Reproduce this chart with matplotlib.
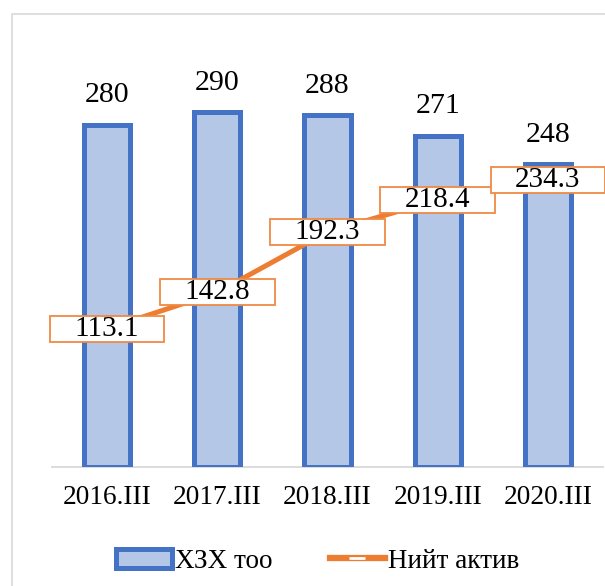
import matplotlib
matplotlib.use("Agg")
import matplotlib.pyplot as plt
from matplotlib.patches import Patch, Rectangle
from matplotlib.lines import Line2D
from matplotlib.path import Path
from matplotlib.legend_handler import HandlerTuple

categories = ["2016.III", "2017.III", "2018.III", "2019.III", "2020.III"]
counts = [280, 290, 288, 271, 248]          # ХЗХ тоо
assets = [113.1, 142.8, 192.3, 218.4, 234.3]  # Нийт актив
series_names = ["ХЗХ тоо", "Нийт актив"]

plt.rcParams['font.family'] = ['Liberation Serif', 'DejaVu Serif']

BAR_FACE = "#B4C7E7"
BAR_EDGE = "#4472C4"
ORANGE = "#ED7D31"
W, H = 605, 586
fig = plt.figure(figsize=(W / 100, H / 100), dpi=100)

# outer chart frame
fig.patches.append(Rectangle((12 / W, -0.1), 1.2, 1 - 14 / H + 0.1, transform=fig.transFigure,
                             fill=False, edgecolor="#D9D9D9", lw=1.2))

left, right, bottom, top = 52, 603, 467, 39
ax = fig.add_axes([left / W, (H - bottom) / H, (right - left) / W, (bottom - top) / H])
x = list(range(len(categories)))
ax.bar(x, counts, width=0.42, color=BAR_FACE, edgecolor=BAR_EDGE, linewidth=3.6, zorder=3)
ax.plot(x, assets, color=ORANGE, lw=3.6, zorder=4, solid_capstyle="butt")

for xi, v in zip(x, counts):
    ax.annotate(f"{v}", (xi, v), xytext=(0, 21), textcoords="offset points",
                ha="center", va="center", fontsize=21.5, zorder=6)


def wide_box(x0, y0, width, height, mutation_size):
    padx = 0.84 * mutation_size
    pady = 0.0 * mutation_size
    x0, y0 = x0 - padx, y0 - pady
    x1, y1 = x0 + width + 2 * padx, y0 + height + 2 * pady
    return Path([(x0, y0), (x1, y0), (x1, y1), (x0, y1), (x0, y0)], closed=True)


for xi, v in zip(x, assets):
    ax.text(xi, v, f"{v:.1f}", ha="center", va="center", fontsize=21, zorder=7,
            bbox=dict(boxstyle=wide_box, facecolor="white", edgecolor="#F08A45", lw=1.3),
            clip_on=False)

ax.set_xlim(-0.5, 4.5)
ax.set_ylim(0, 350)
ax.set_yticks([])
ax.set_xticks(x)
ax.set_xticklabels(categories, fontsize=19.7)
ax.tick_params(axis="x", length=0, pad=13)
for s in ["top", "right", "left"]:
    ax.spines[s].set_visible(False)
ax.spines["bottom"].set_color("#D9D9D9")
ax.spines["bottom"].set_linewidth(1.3)
ax.spines["bottom"].set_zorder(1)

handles = [Patch(facecolor=BAR_FACE, edgecolor=BAR_EDGE, lw=3.6),
           (Line2D([], [], color=ORANGE, lw=4.5),
            Line2D([], [], color="white", lw=0, marker="_", markersize=11, markeredgewidth=2.0))]
fig.legend(handles, series_names, loc="center", bbox_to_anchor=(318 / W, (H - 561) / H),
           ncol=2, frameon=False, fontsize=19.5, handlelength=2.05, handleheight=0.7,
           handletextpad=0.12, columnspacing=2.1, numpoints=1,
           handler_map={tuple: HandlerTuple(ndivide=1, pad=0)})

fig.savefig("out.png", dpi=100)
